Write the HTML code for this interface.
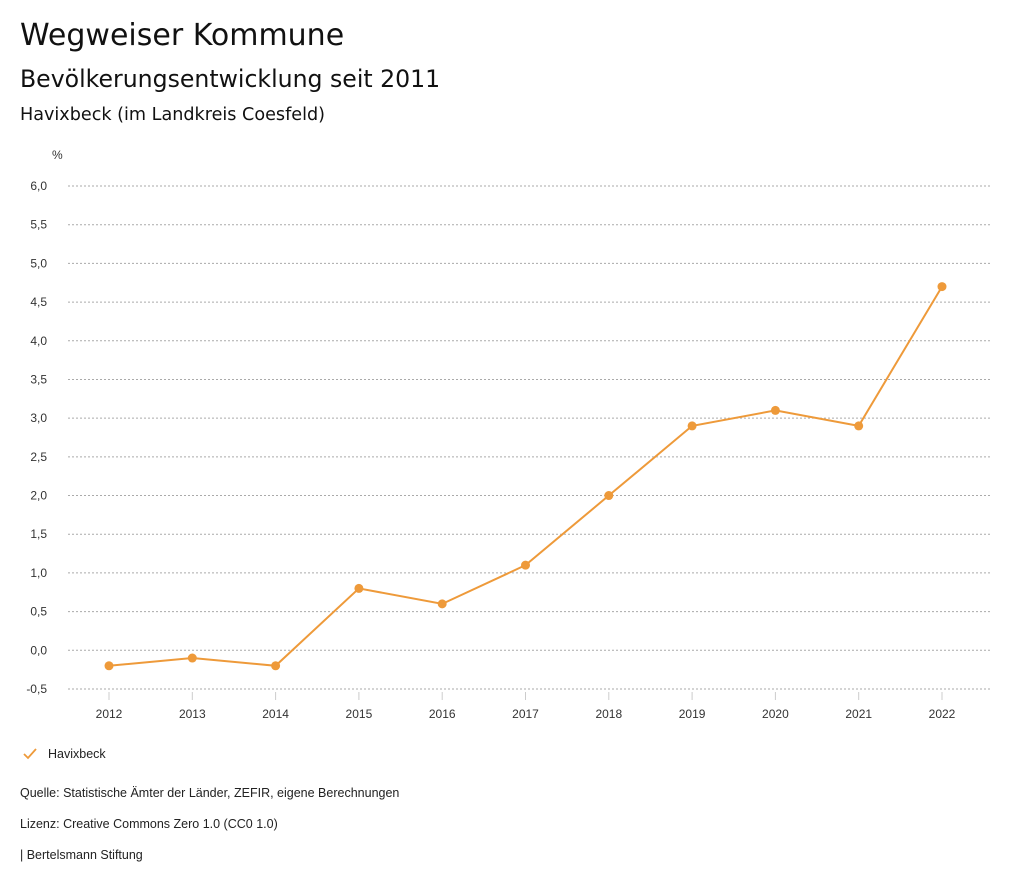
<!DOCTYPE html>
<html><head><meta charset="utf-8"><style>
body{margin:0;width:1024px;height:888px;background:#fff;font-family:"Liberation Sans",sans-serif;color:#222;position:relative;overflow:hidden}
.t{position:absolute;left:20px;white-space:nowrap;font-family:"DejaVu Sans",sans-serif;color:#111}
.f{position:absolute;left:20px;font-size:12.5px;color:#222;white-space:nowrap}
</style></head><body>
<div class="t" style="top:18px;font-size:30px">Wegweiser Kommune</div>
<div class="t" style="top:65px;font-size:23.6px">Bevölkerungsentwicklung seit 2011</div>
<div class="t" style="top:105px;font-size:17.6px">Havixbeck (im Landkreis Coesfeld)</div>
<svg id="chart" width="1024" height="740" style="position:absolute;left:0;top:0">
<text x="52" y="159" font-size="12" fill="#333">%</text>
<g id="grid"></g><g id="xt"></g><g id="series"></g>
</svg>
<svg style="position:absolute;left:22px;top:747px" width="16" height="14"><polyline points="2,7 6,11 14,2" fill="none" stroke="#ee9a3a" stroke-width="1.8"/></svg>
<div class="f" style="left:48px;top:747px">Havixbeck</div>
<div class="f" style="top:786px">Quelle: Statistische Ämter der Länder, ZEFIR, eigene Berechnungen</div>
<div class="f" style="top:817px">Lizenz: Creative Commons Zero 1.0 (CC0 1.0)</div>
<div class="f" style="top:848px">| Bertelsmann Stiftung</div>
<script>
const years=[2012,2013,2014,2015,2016,2017,2018,2019,2020,2021,2022];
const values=[-0.2,-0.1,-0.2,0.8,0.6,1.1,2.0,2.9,3.1,2.9,4.7];
const yTicks=[-0.5,0,0.5,1,1.5,2,2.5,3,3.5,4,4.5,5,5.5,6];
const NS="http://www.w3.org/2000/svg";
const y=v=>650.3-v*77.38;
const x=i=>109+i*83.3;
function mk(t,a,p){const e=document.createElementNS(NS,t);for(const k in a)e.setAttribute(k,a[k]);p.appendChild(e);return e;}
const g=document.getElementById('grid');
yTicks.forEach(v=>{
 const l=mk('line',{x1:68,x2:990,y1:y(v),y2:y(v),stroke:'#aaa','stroke-dasharray':'2,2','stroke-width':1},g);
 
 
 const t=mk('text',{x:47,y:y(v)+4,'text-anchor':'end','font-size':12,fill:'#333'},g);
 
 
 t.textContent=v.toFixed(1).replace('.',',');
});
const xt=document.getElementById('xt');
years.forEach((yr,i)=>{
 mk('line',{x1:x(i),x2:x(i),y1:692,y2:700,stroke:'#ccc'},xt);
 const t=mk('text',{x:x(i),y:718,'text-anchor':'middle','font-size':12,fill:'#333'},xt);
 
 
 t.textContent=yr;
});
const s=document.getElementById('series');
const pl=mk('polyline',{points:values.map((v,i)=>x(i)+','+y(v)).join(' '),fill:'none',stroke:'#ee9a3a','stroke-width':2},s);


values.forEach((v,i)=>{
 const c=mk('circle',{cx:x(i),cy:y(v),r:4.5,fill:'#ee9a3a'},s);
 
 
});
</script>
</body></html>
